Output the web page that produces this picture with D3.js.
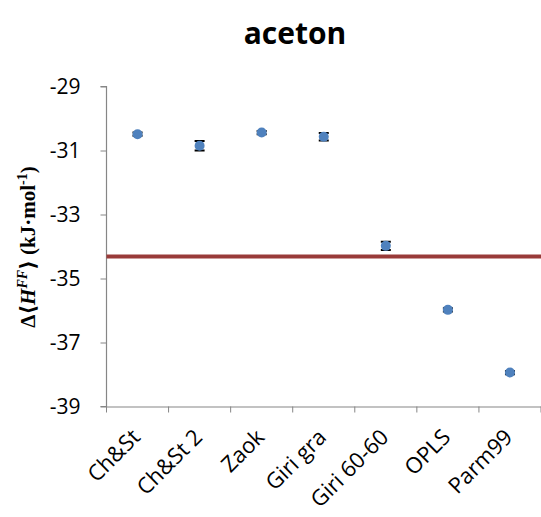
<!DOCTYPE html>
<html>
<head>
<meta charset="utf-8">
<script src="https://cdn.jsdelivr.net/npm/d3@7"></script>
<style>
  body { margin: 0; background: #fff; }
  text { font-family: "Open Sans", sans-serif; }
</style>
</head>
<body>
<script>
var categories = ['Ch&St', 'Ch&St 2', 'Zaok', 'Giri gra', 'Giri 60-60', 'OPLS', 'Parm99'];
var values = [-30.49, -30.85, -30.44, -30.57, -33.98, -35.98, -37.94];
var errors = [0.05, 0.15, 0.05, 0.12, 0.13, 0.05, 0.05];
var reference = -34.31;
var yTicks = [-29, -31, -33, -35, -37, -39];

var W = 541, H = 517;
var margin = { top: 86.5, right: 0, bottom: 110.5, left: 106.5 };
var width = W - margin.left - margin.right;
var height = H - margin.top - margin.bottom;

var svg = d3.select('body').append('svg')
  .attr('width', W)
  .attr('height', H);

svg.append('text')
  .attr('x', 295)
  .attr('y', 44)
  .attr('text-anchor', 'middle')
  .style('font-size', '30px')
  .style('font-weight', 'bold')
  .text('aceton');

var g = svg.append('g')
  .attr('transform', `translate(${margin.left}, ${margin.top})`);

var xScale = d3.scaleBand().domain(categories).range([0, width]);
var yScale = d3.scaleLinear().domain([-39, -29]).range([height, 0]);

// axes
var yAxis = g.append('g')
  .call(d3.axisLeft(yScale).tickValues(yTicks).tickSize(6).tickPadding(20)
    .tickFormat(function(d) { return String(d); }));
var xAxis = g.append('g')
  .attr('transform', `translate(0, ${height})`)
  .call(d3.axisBottom(xScale).tickSize(0).tickFormat(''));

// x ticks at category boundaries
xAxis.selectAll('.bound')
  .data(d3.range(categories.length + 1))
  .enter().append('line')
  .attr('x1', function(i) { return i * xScale.step(); })
  .attr('x2', function(i) { return i * xScale.step(); })
  .attr('y1', 0)
  .attr('y2', 6)
  .attr('stroke', '#868686');

[yAxis, xAxis].forEach(function(a) {
  a.select('.domain').attr('stroke', '#868686').attr('stroke-width', 1.2);
  a.selectAll('.tick line').attr('stroke', '#868686');
  a.selectAll('text').style('font-family', '"Open Sans", sans-serif').style('font-size', '21px').attr('fill', '#000');
});
yAxis.select('.domain').attr('d', `M-6,0H0V${height}H-6`);

// rotated category labels
g.selectAll('.xlab')
  .data(categories)
  .enter().append('text')
  .attr('class', 'xlab')
  .attr('transform', function(d) {
    return `translate(${xScale(d) + xScale.bandwidth() / 2 + 4}, ${height + 32}) rotate(-45)`;
  })
  .attr('text-anchor', 'end')
  .style('font-size', '22px')
  .text(function(d) { return d; });

// reference line
g.append('line')
  .attr('x1', 0)
  .attr('x2', width)
  .attr('y1', yScale(reference))
  .attr('y2', yScale(reference))
  .attr('stroke', '#993B39')
  .attr('stroke-width', 4);

// error bars
var eb = g.selectAll('.eb')
  .data(categories)
  .enter().append('g')
  .attr('class', 'eb');
eb.append('path')
  .attr('d', function(d, i) {
    var cx = xScale(d) + xScale.bandwidth() / 2;
    var y0 = yScale(values[i] - errors[i]);
    var y1 = yScale(values[i] + errors[i]);
    return `M${cx},${y0}V${y1}M${cx - 5},${y0}H${cx + 5}M${cx - 5},${y1}H${cx + 5}`;
  })
  .attr('stroke', '#000')
  .attr('stroke-width', 2)
  .attr('fill', 'none');

g.selectAll('.pt')
  .data(categories)
  .enter().append('circle')
  .attr('cx', function(d) { return xScale(d) + xScale.bandwidth() / 2; })
  .attr('cy', function(d, i) { return yScale(values[i]); })
  .attr('r', 5)
  .attr('fill', '#4F81BD');

// y axis label
var ylab = svg.append('text')
  .attr('transform', 'translate(35, 247) rotate(-90)')
  .attr('text-anchor', 'middle')
  .style('font-family', '"Liberation Serif", "DejaVu Serif", serif')
  .style('font-size', '21px')
  .style('font-weight', 'bold');
ylab.append('tspan').text('Δ⟨');
ylab.append('tspan').style('font-style', 'italic').text('H');
ylab.append('tspan').style('font-style', 'italic').style('font-size', '14px').attr('dy', -8).text('FF');
ylab.append('tspan').attr('dy', 8).text('⟩ (kJ·mol');
ylab.append('tspan').style('font-size', '14px').attr('dy', -8).text('-1');
ylab.append('tspan').attr('dy', 8).text(')');
</script>
</body>
</html>
